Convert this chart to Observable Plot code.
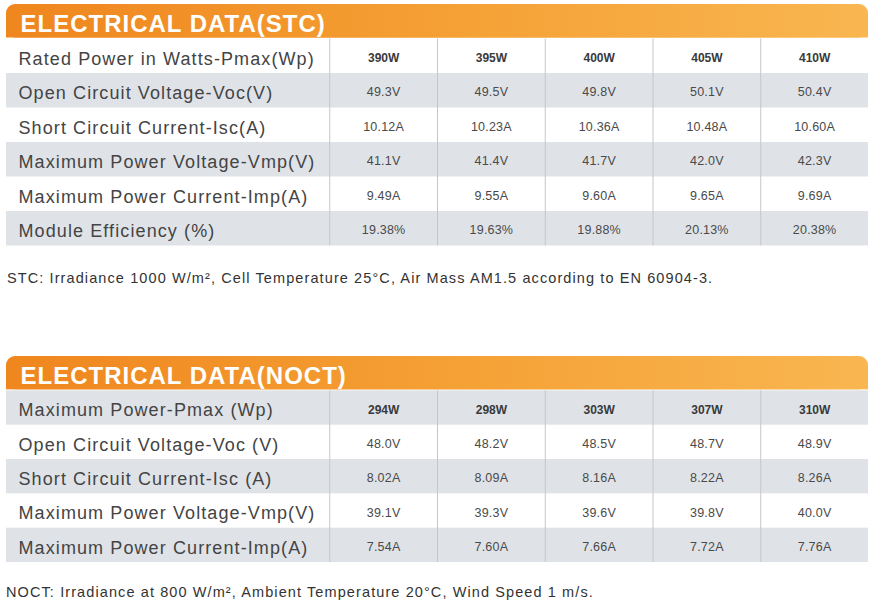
<!DOCTYPE html>
<html><head><meta charset="utf-8">
<script src="https://cdn.jsdelivr.net/npm/d3@7"></script>
<script src="https://cdn.jsdelivr.net/npm/@observablehq/plot@0.6"></script>
<style>
body{margin:0;background:#fff;}
#root{width:880px;}
.note{font-family:"Liberation Sans",Arial,sans-serif;font-size:14.5px;letter-spacing:1.1px;color:#333;line-height:20px;box-sizing:border-box;padding-left:7px;white-space:nowrap;}
</style></head><body><div id="root"></div>
<script>
// ---- STC table ----
const stcTitle = "ELECTRICAL DATA(STC)";
const stcLabels = [
  "Rated Power in Watts-Pmax(Wp)",
  "Open Circuit Voltage-Voc(V)",
  "Short Circuit Current-Isc(A)",
  "Maximum Power Voltage-Vmp(V)",
  "Maximum Power Current-Imp(A)",
  "Module Efficiency (%)"
];
const stcPower = [390, 395, 400, 405, 410];
const stcVoc = [49.3, 49.5, 49.8, 50.1, 50.4];
const stcIsc = [10.12, 10.23, 10.36, 10.48, 10.60];
const stcVmp = [41.1, 41.4, 41.7, 42.0, 42.3];
const stcImp = [9.49, 9.55, 9.60, 9.65, 9.69];
const stcEff = [19.38, 19.63, 19.88, 20.13, 20.38];
const stcUnits = ["W", "V", "A", "V", "A", "%"];
const stcDigits = [0, 1, 2, 1, 2, 2];
const stcNote = "STC: Irradiance 1000 W/m², Cell Temperature 25°C, Air Mass AM1.5 according to EN 60904-3.";

// ---- NOCT table ----
const noctTitle = "ELECTRICAL DATA(NOCT)";
const noctLabels = [
  "Maximum Power-Pmax (Wp)",
  "Open Circuit Voltage-Voc (V)",
  "Short Circuit Current-Isc (A)",
  "Maximum Power Voltage-Vmp(V)",
  "Maximum Power Current-Imp(A)"
];
const noctPower = [294, 298, 303, 307, 310];
const noctVoc = [48.0, 48.2, 48.5, 48.7, 48.9];
const noctIsc = [8.02, 8.09, 8.16, 8.22, 8.26];
const noctVmp = [39.1, 39.3, 39.6, 39.8, 40.0];
const noctImp = [7.54, 7.60, 7.66, 7.72, 7.76];
const noctUnits = ["W", "V", "A", "V", "A"];
const noctDigits = [0, 1, 2, 1, 2];
const noctNote = "NOCT: Irradiance at 800 W/m², Ambient Temperature 20°C, Wind Speed 1 m/s.";

function makeTable({title, labels, rows, units, digits, grayParity, height, marginTop, marginBottom, gid}) {
  const n = labels.length;
  const cells = [];
  rows.forEach((vals, r) => vals.forEach((v, c) =>
    cells.push({r, c, text: v.toFixed(digits[r]) + units[r]})));
  const bands = d3.range(n).filter(i => i % 2 === grayParity);
  const seps = [3, 4, 5, 6, 7];
  const svg = Plot.plot({
    width: 880, height, marginLeft: 6, marginRight: 12, marginTop, marginBottom,
    style: {fontFamily: "'Liberation Sans', Arial, sans-serif", background: "white", display: "block"},
    x: {domain: [0, 8], axis: null},
    y: {domain: [-1, n], reverse: true, axis: null},
    marks: [
      Plot.rect(bands, {x1: () => 0, x2: () => 8, y1: d => d, y2: d => d + 1, fill: "#dfe3e8"}),
      Plot.rect([title], {x1: () => 0, x2: () => 8, y1: () => -1, y2: () => 0, insetBottom: 1, rx: 9, fill: `url(#${gid})`}),
      Plot.rect([title], {x1: () => 0, x2: () => 8, y1: () => -0.5, y2: () => 0, insetBottom: 1, fill: `url(#${gid})`}),
      Plot.ruleX(seps, {x: d => d, y1: () => 0, y2: () => n, stroke: "#c6c6c6", strokeWidth: 1}),
      Plot.text([title], {x: () => 0, y: () => -0.5, dx: 14, dy: 3, text: d => d, textAnchor: "start",
        fill: "white", fontSize: 24, fontWeight: "bold"}),
      Plot.text(labels, {x: () => 0, y: (d, i) => i + 0.5, dx: 12, dy: 2.5, text: d => d, textAnchor: "start",
        fill: "#444", fontSize: 18}),
      Plot.text(cells.filter(d => d.r === 0), {x: d => 3.5 + d.c, y: d => d.r + 0.5, dy: 2, text: "text",
        fill: "#3a3a3a", fontSize: 12, fontWeight: "bold"}),
      Plot.text(cells.filter(d => d.r > 0), {x: d => 3.5 + d.c, y: d => d.r + 0.5, dy: 1.5, text: "text",
        fill: "#4a4a4a", fontSize: 12.5})
    ]
  });
  const s = d3.select(svg);
  const grad = s.insert("defs", ":first-child").append("linearGradient")
    .attr("id", gid).attr("x1", "0%").attr("x2", "100%").attr("y1", "0%").attr("y2", "0%");
  grad.append("stop").attr("offset", "0%").attr("stop-color", "#ef861e");
  grad.append("stop").attr("offset", "55%").attr("stop-color", "#f5a236");
  grad.append("stop").attr("offset", "100%").attr("stop-color", "#f9b651");
  const valueTexts = cells.filter(d => d.r > 0).map(d => d.text);
  s.selectAll("text").each(function() {
    const t = this.textContent;
    let ls = null;
    if (labels.includes(t)) ls = "1.1px";
    else if (t === title) ls = "1px";
    else if (valueTexts.includes(t)) ls = "0.2px";
    if (ls) { this.setAttribute("letter-spacing", ls); this.style.letterSpacing = ls; }
  });
  return svg;
}

const root = document.getElementById("root");
root.appendChild(makeTable({
  title: stcTitle, labels: stcLabels,
  rows: [stcPower, stcVoc, stcIsc, stcVmp, stcImp, stcEff],
  units: stcUnits, digits: stcDigits, grayParity: 1,
  height: 250, marginTop: 4, marginBottom: 4.5, gid: "gradStc"
}));
const n1 = document.createElement("div");
n1.className = "note"; n1.style.height = "100px"; n1.style.paddingTop = "18px";
n1.textContent = stcNote;
root.appendChild(n1);
root.appendChild(makeTable({
  title: noctTitle, labels: noctLabels,
  rows: [noctPower, noctVoc, noctIsc, noctVmp, noctImp],
  units: noctUnits, digits: noctDigits, grayParity: 0,
  height: 216, marginTop: 6, marginBottom: 4, gid: "gradNoct"
}));
const n2 = document.createElement("div");
n2.className = "note"; n2.style.paddingTop = "16px"; n2.style.paddingLeft = "6px";
n2.textContent = noctNote;
root.appendChild(n2);
</script>
</body></html>
